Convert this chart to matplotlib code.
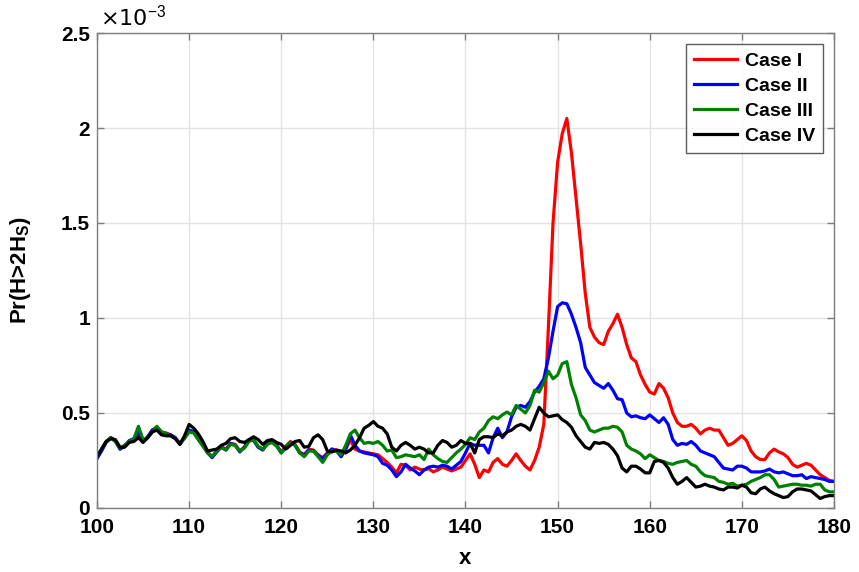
import numpy as np
import matplotlib
matplotlib.use("Agg")
import matplotlib.pyplot as plt

plt.rcParams['font.family'] = ['Liberation Sans', 'DejaVu Sans']
plt.rcParams['mathtext.fontset'] = 'custom'
plt.rcParams['mathtext.rm'] = 'Liberation Sans'
plt.rcParams['mathtext.bf'] = 'Liberation Sans:bold'
plt.rcParams['mathtext.it'] = 'Liberation Sans:italic'

# x positions (step 0.5)
x = np.arange(100, 180.01, 0.5)

# Pr(H>2Hs) values in units of 1e-3
case1 = [0.26, 0.31, 0.35, 0.37, 0.35, 0.31, 0.33, 0.35, 0.36, 0.39,
         0.35, 0.37, 0.41, 0.42, 0.40, 0.395, 0.385, 0.37, 0.34, 0.37,
         0.41, 0.40, 0.365, 0.33, 0.295, 0.27, 0.30, 0.32, 0.31, 0.34,
         0.335, 0.30, 0.32, 0.355, 0.36, 0.32, 0.31, 0.34, 0.35, 0.33,
         0.295, 0.325, 0.35, 0.335, 0.295, 0.28, 0.31, 0.305, 0.28, 0.265,
         0.29, 0.31, 0.305, 0.275, 0.31, 0.36, 0.31, 0.30, 0.295, 0.29,
         0.285, 0.28, 0.26, 0.24, 0.215, 0.185, 0.23, 0.225, 0.20, 0.215,
         0.205, 0.20, 0.207, 0.19, 0.20, 0.216, 0.205, 0.195, 0.205, 0.215,
         0.25, 0.285, 0.23, 0.16, 0.20, 0.19, 0.24, 0.26, 0.23, 0.22,
         0.25, 0.285, 0.25, 0.22, 0.20, 0.25, 0.32, 0.44, 0.95, 1.50,
         1.82, 1.97, 2.05, 1.87, 1.63, 1.39, 1.13, 0.95, 0.90, 0.87,
         0.86, 0.93, 0.97, 1.02, 0.95, 0.86, 0.79, 0.77, 0.70, 0.65,
         0.61, 0.60, 0.655, 0.63, 0.58, 0.50, 0.45, 0.43, 0.43, 0.44,
         0.42, 0.39, 0.41, 0.42, 0.41, 0.41, 0.37, 0.33, 0.34, 0.36,
         0.38, 0.355, 0.30, 0.27, 0.255, 0.255, 0.29, 0.31, 0.295, 0.285,
         0.265, 0.23, 0.215, 0.225, 0.235, 0.225, 0.20, 0.175, 0.16, 0.145,
         0.14]

case2 = [0.26, 0.30, 0.345, 0.37, 0.355, 0.31, 0.325, 0.355, 0.365, 0.40,
         0.35, 0.375, 0.41, 0.425, 0.40, 0.39, 0.385, 0.37, 0.335, 0.37,
         0.41, 0.40, 0.36, 0.33, 0.29, 0.265, 0.295, 0.32, 0.305, 0.34,
         0.33, 0.295, 0.32, 0.36, 0.355, 0.32, 0.305, 0.34, 0.35, 0.33,
         0.29, 0.32, 0.345, 0.33, 0.29, 0.28, 0.305, 0.30, 0.275, 0.26,
         0.285, 0.31, 0.30, 0.27, 0.31, 0.385, 0.33, 0.30, 0.29, 0.285,
         0.28, 0.27, 0.235, 0.225, 0.20, 0.165, 0.19, 0.23, 0.21, 0.195,
         0.175, 0.20, 0.215, 0.22, 0.215, 0.225, 0.22, 0.205, 0.225, 0.245,
         0.29, 0.34, 0.33, 0.33, 0.33, 0.29, 0.37, 0.42, 0.37, 0.40,
         0.48, 0.53, 0.54, 0.53, 0.56, 0.61, 0.64, 0.68, 0.79, 0.93,
         1.06, 1.08, 1.075, 1.02, 0.95, 0.87, 0.74, 0.70, 0.66, 0.645,
         0.63, 0.655, 0.62, 0.575, 0.57, 0.50, 0.48, 0.485, 0.475, 0.47,
         0.49, 0.47, 0.45, 0.475, 0.44, 0.36, 0.33, 0.34, 0.335, 0.35,
         0.33, 0.30, 0.29, 0.28, 0.27, 0.24, 0.21, 0.205, 0.20, 0.22,
         0.22, 0.21, 0.19, 0.19, 0.19, 0.195, 0.205, 0.19, 0.185, 0.19,
         0.18, 0.17, 0.17, 0.175, 0.155, 0.165, 0.16, 0.155, 0.15, 0.14,
         0.14]

case3 = [0.27, 0.31, 0.35, 0.37, 0.35, 0.315, 0.33, 0.35, 0.365, 0.43,
         0.36, 0.37, 0.40, 0.43, 0.40, 0.39, 0.38, 0.365, 0.34, 0.365,
         0.40, 0.395, 0.36, 0.325, 0.29, 0.27, 0.30, 0.32, 0.305, 0.335,
         0.33, 0.30, 0.315, 0.35, 0.36, 0.325, 0.31, 0.335, 0.345, 0.325,
         0.29, 0.32, 0.345, 0.33, 0.29, 0.27, 0.30, 0.30, 0.27, 0.24,
         0.28, 0.30, 0.30, 0.28, 0.33, 0.39, 0.41, 0.37, 0.34, 0.345,
         0.34, 0.35, 0.33, 0.30, 0.305, 0.265, 0.27, 0.28, 0.275, 0.27,
         0.28, 0.255, 0.31, 0.28, 0.26, 0.245, 0.24, 0.265, 0.29, 0.31,
         0.335, 0.37, 0.36, 0.40, 0.42, 0.46, 0.48, 0.47, 0.49, 0.505,
         0.49, 0.54, 0.52, 0.50, 0.54, 0.62, 0.61, 0.66, 0.72, 0.68,
         0.70, 0.76, 0.77, 0.65, 0.58, 0.49, 0.46, 0.41, 0.40, 0.41,
         0.42, 0.42, 0.43, 0.425, 0.40, 0.33, 0.31, 0.30, 0.285, 0.26,
         0.28, 0.265, 0.25, 0.245, 0.235, 0.23, 0.24, 0.245, 0.25, 0.23,
         0.22, 0.19, 0.17, 0.165, 0.16, 0.14, 0.135, 0.125, 0.13, 0.115,
         0.12, 0.125, 0.14, 0.15, 0.16, 0.175, 0.175, 0.15, 0.11, 0.115,
         0.12, 0.125, 0.125, 0.12, 0.12, 0.115, 0.125, 0.125, 0.095, 0.085,
         0.085]

case4 = [0.27, 0.31, 0.35, 0.365, 0.36, 0.32, 0.32, 0.345, 0.35, 0.37,
         0.345, 0.37, 0.40, 0.41, 0.385, 0.38, 0.38, 0.365, 0.335, 0.38,
         0.44, 0.42, 0.39, 0.35, 0.30, 0.305, 0.31, 0.33, 0.34, 0.365,
         0.37, 0.35, 0.345, 0.36, 0.375, 0.36, 0.335, 0.355, 0.36, 0.345,
         0.335, 0.31, 0.33, 0.35, 0.355, 0.32, 0.325, 0.37, 0.385, 0.36,
         0.30, 0.295, 0.305, 0.30, 0.29, 0.305, 0.33, 0.37, 0.42, 0.435,
         0.455, 0.43, 0.42, 0.39, 0.32, 0.30, 0.33, 0.345, 0.33, 0.31,
         0.32, 0.31, 0.29, 0.29, 0.33, 0.355, 0.345, 0.32, 0.33, 0.355,
         0.34, 0.34, 0.29, 0.36, 0.375, 0.375, 0.37, 0.39, 0.38, 0.40,
         0.41, 0.43, 0.44, 0.43, 0.41, 0.47, 0.53, 0.50, 0.48, 0.485,
         0.49, 0.465, 0.45, 0.425, 0.38, 0.35, 0.32, 0.31, 0.345, 0.34,
         0.345, 0.335, 0.31, 0.275, 0.21, 0.19, 0.22, 0.22, 0.205, 0.185,
         0.185, 0.245, 0.25, 0.24, 0.21, 0.16, 0.125, 0.14, 0.16, 0.135,
         0.11, 0.115, 0.125, 0.115, 0.11, 0.10, 0.095, 0.11, 0.11, 0.105,
         0.12, 0.11, 0.08, 0.075, 0.10, 0.11, 0.09, 0.075, 0.065, 0.055,
         0.06, 0.085, 0.10, 0.10, 0.095, 0.09, 0.07, 0.05, 0.06, 0.065,
         0.065]

labels = ['Case I', 'Case II', 'Case III', 'Case IV']
colors = ['#ff0000', '#0000ff', '#008000', '#000000']

fig = plt.figure(figsize=(8.59, 5.72), dpi=100)
ax = fig.add_axes([0.1129, 0.1119, 0.8580, 0.8304])

for y, lab, c in zip([case1, case2, case3, case4], labels, colors):
    ax.plot(x, y, color=c, lw=2.3, label=lab)

ax.set_xlim(100, 180)
ax.set_ylim(0, 2.5)
ax.set_xticks(np.arange(100, 181, 10))
ax.set_yticks([0, 0.5, 1, 1.5, 2, 2.5])
ax.set_yticklabels(['0', '0.5', '1', '1.5', '2', '2.5'])
ax.grid(True, color='#e3e3e3', lw=1.0)
ax.set_axisbelow(True)
for s in ax.spines.values():
    s.set_color('#7f7f7f')
    s.set_linewidth(1.0)
ax.tick_params(direction='in', length=5, width=1, color='#7f7f7f',
               top=True, right=True, labelsize=15)
ax.tick_params(axis='x', pad=7)
ax.tick_params(axis='y', pad=5)
for t in ax.get_xticklabels() + ax.get_yticklabels():
    t.set_fontweight('bold')

ax.set_xlabel('x', fontsize=16, fontweight='bold', labelpad=8)
ax.set_ylabel(r'Pr(H>2H$_{\mathbf{S}}$)', fontsize=16, fontweight='bold', labelpad=20)
ax.text(0.004, 1.008, '\u00d7' + r'10$^{-3}$', transform=ax.transAxes,
        fontsize=16, ha='left', va='bottom', family='DejaVu Sans')

leg = ax.legend(loc='upper right', bbox_to_anchor=(0.9845, 0.976),
                prop={'weight': 'bold', 'size': 14}, frameon=True,
                fancybox=False, handlelength=2.2, handletextpad=0.4,
                borderpad=0.4, labelspacing=0.38, borderaxespad=0.0)
leg.get_frame().set_edgecolor('#333333')
leg.get_frame().set_linewidth(1.0)

fig.savefig('out.png', dpi=100)
